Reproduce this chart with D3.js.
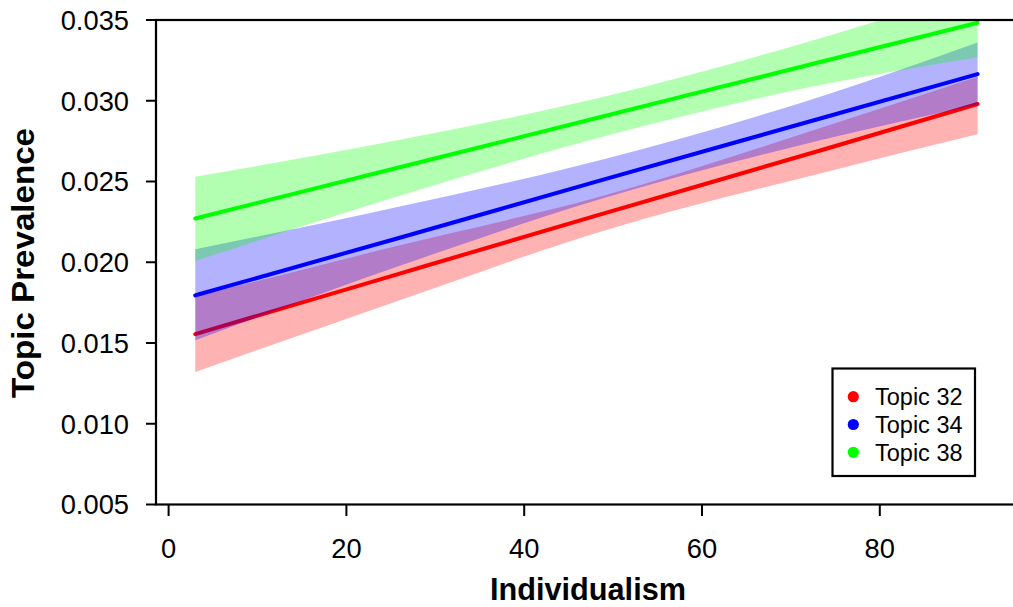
<!DOCTYPE html>
<html><head><meta charset="utf-8">
<script src="https://cdn.jsdelivr.net/npm/d3@7"></script>
<style>html,body{margin:0;padding:0;background:#fff;}svg{display:block;}</style>
</head><body>
<svg id="chart" width="1013" height="607"></svg>
<script>
// Values
const xValues = [3, 26, 48.5, 73.3, 91];

const topics = ["Topic 32", "Topic 34", "Topic 38"];
const colors = ["#ff0000", "#0000ff", "#00ff00"];

const topic32Mean  = [0.01555, 0.01930, 0.02295, 0.02692, 0.02980];
const topic32Lower = [0.01321, 0.01765, 0.02188, 0.02550, 0.02792];
const topic32Upper = [0.01786, 0.02105, 0.02405, 0.02831, 0.03149];

const topic34Mean  = [0.01795, 0.02152, 0.02505, 0.02890, 0.03165];
const topic34Lower = [0.01517, 0.01978, 0.02390, 0.02755, 0.02975];
const topic34Upper = [0.02081, 0.02345, 0.02632, 0.03025, 0.03360];

const topic38Mean  = [0.02271, 0.02588, 0.02898, 0.03240, 0.03483];
const topic38Lower = [0.02008, 0.02412, 0.02772, 0.03097, 0.03269];
const topic38Upper = [0.02530, 0.02758, 0.03018, 0.03387, 0.03690];

const xTicks = [0, 20, 40, 60, 80];
const yTicks = [0.005, 0.010, 0.015, 0.020, 0.025, 0.030, 0.035];

const series = [
  {name: topics[0], color: colors[0], mean: topic32Mean, lower: topic32Lower, upper: topic32Upper},
  {name: topics[1], color: colors[1], mean: topic34Mean, lower: topic34Lower, upper: topic34Upper},
  {name: topics[2], color: colors[2], mean: topic38Mean, lower: topic38Lower, upper: topic38Upper}
];

(function () {
const svg = d3.select("#chart");
const pLeft = 156, pTop = 20, pBottom = 504.5, pRight = 1030;

const x = d3.scaleLinear().domain([0, 80]).range([168.6, 879.8]);
const y = d3.scaleLinear().domain([0.005, 0.035]).range([pBottom, pTop]);

svg.append("defs").append("clipPath").attr("id", "plotclip")
  .append("rect").attr("x", pLeft).attr("y", pTop).attr("width", pRight - pLeft).attr("height", pBottom - pTop);

const g = svg.append("g").attr("clip-path", "url(#plotclip)");

const area = d3.area()
  .x((d, i) => x(xValues[i]))
  .y0(d => y(d[0])).y1(d => y(d[1]))
  .curve(d3.curveMonotoneX);
const line = d3.line()
  .x((d, i) => x(xValues[i]))
  .y(d => y(d))
  .curve(d3.curveMonotoneX);

series.forEach(s => {
  const band = s.lower.map((l, i) => [l, s.upper[i]]);
  g.append("path").attr("d", area(band))
    .attr("fill", s.color).attr("fill-opacity", 0.3).attr("stroke", "none");
  g.append("path").attr("d", line(s.mean))
    .attr("fill", "none").attr("stroke", s.color).attr("stroke-width", 4)
    .attr("stroke-linecap", "round");
});

// box
svg.append("rect").attr("x", pLeft).attr("y", pTop).attr("width", pRight - pLeft).attr("height", pBottom - pTop)
  .attr("fill", "none").attr("stroke", "#000").attr("stroke-width", 2.2);

const font = "'Liberation Sans', Arial, Helvetica, sans-serif";

// y axis ticks
const yAxis = svg.append("g");
yAxis.selectAll("line").data(yTicks).enter().append("line")
  .attr("x1", 146).attr("x2", pLeft).attr("y1", d => y(d)).attr("y2", d => y(d))
  .attr("stroke", "#000").attr("stroke-width", 2);
yAxis.selectAll("text").data(yTicks).enter().append("text")
  .attr("x", 129).attr("y", d => y(d)).attr("dy", "0.36em")
  .attr("text-anchor", "end").attr("font-family", font).attr("font-size", 27.3)
  .text(d => d3.format(".3f")(d));

// x axis ticks
const xAxis = svg.append("g");
xAxis.selectAll("line").data(xTicks).enter().append("line")
  .attr("x1", d => x(d)).attr("x2", d => x(d)).attr("y1", pBottom).attr("y2", 516)
  .attr("stroke", "#000").attr("stroke-width", 2);
xAxis.selectAll("text").data(xTicks).enter().append("text")
  .attr("x", d => x(d)).attr("y", 558)
  .attr("text-anchor", "middle").attr("font-family", font).attr("font-size", 27.3)
  .text(d => d);

// axis titles
svg.append("text").attr("x", 588).attr("y", 600).attr("text-anchor", "middle")
  .attr("font-family", font).attr("font-weight", "bold").attr("font-size", 30.5)
  .attr("textLength", 196).attr("lengthAdjust", "spacingAndGlyphs")
  .text("Individualism");
svg.append("text").attr("transform", "translate(34,263) rotate(-90)").attr("text-anchor", "middle")
  .attr("font-family", font).attr("font-weight", "bold").attr("font-size", 31)
  .attr("textLength", 270).attr("lengthAdjust", "spacingAndGlyphs")
  .text("Topic Prevalence");

// legend
const lg = svg.append("g");
lg.append("rect").attr("x", 832.5).attr("y", 368.5).attr("width", 142.5).attr("height", 107.5)
  .attr("fill", "#fff").attr("stroke", "#000").attr("stroke-width", 2.2);
series.forEach((s, i) => {
  lg.append("circle").attr("cx", 853.3).attr("cy", 396.7 + i * 27.8).attr("r", 5.6).attr("fill", s.color);
  lg.append("text").attr("x", 875).attr("y", 396.7 + i * 27.8).attr("dy", "0.36em")
    .attr("font-family", font).attr("font-size", 23.5).text(s.name);
});
})();
</script>
</body></html>
